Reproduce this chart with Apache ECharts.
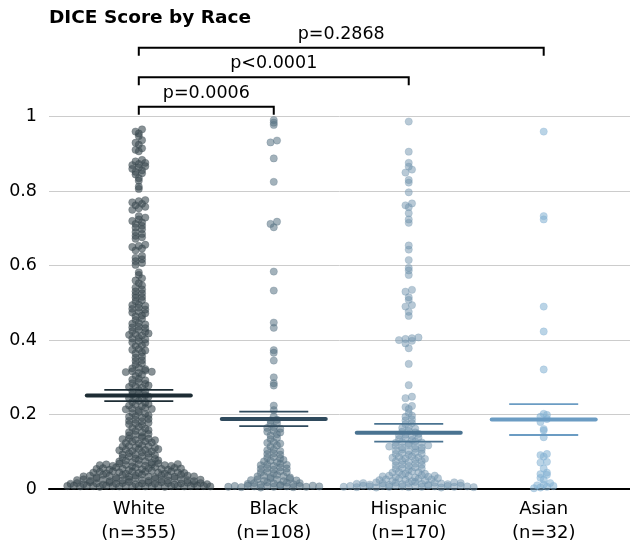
<!DOCTYPE html>
<html><head><meta charset="utf-8">
<script src="https://cdn.jsdelivr.net/npm/echarts@6/dist/echarts.min.js"></script>
<style>html,body{margin:0;padding:0;background:#fff}#c{width:630px;height:557px}</style>
</head><body><div id="c"></div>
<script>
// ---------- data ----------
const categories = ['White', 'Black', 'Hispanic', 'Asian'];
const groupSizes = [355, 108, 170, 32];
const yTicks = [0, 0.2, 0.4, 0.6, 0.8, 1];

const whiteValues = [
  .008,.009,.007,.009,.008,.006,.009,.008,.007,.009,.008,.009,.007,.008,.009,.006,.008,.009,.007,.008,.009,.008,.007,
  .014,.016,.013,.018,.015,.012,.017,.014,.016,.019,.013,.015,.017,.014,.018,.016,.012,.015,.017,.014,.016,.013,
  .024,.026,.022,.028,.025,.021,.027,.023,.026,.029,.024,.022,.027,.025,.023,.028,.026,.024,.021,.025,
  .034,.036,.032,.038,.035,.031,.037,.033,.036,.039,.034,.032,.037,.035,.033,.038,.036,.034,
  .044,.046,.042,.048,.045,.041,.047,.043,.046,.049,.044,.042,.047,.045,.043,
  .054,.056,.052,.058,.055,.051,.057,.053,.056,.059,.054,.052,.057,.055,
  .064,.066,.062,.068,.065,.061,.067,.063,.066,.069,.064,.062,.067,
  .074,.076,.072,.078,.075,.071,.077,
  .084,.087,.082,.088,.085,.081,
  .093,.096,.092,.098,.095,.091,
  .104,.106,.102,.108,.105,.101,.107,
  .114,.116,.112,.118,.115,.111,
  .124,.127,.122,.128,.125,
  .134,.136,.132,.138,.135,.131,
  .144,.146,.142,.148,
  .153,.156,.152,.158,
  .164,.167,.162,
  .174,.176,.172,.178,
  .183,.186,.182,.188,
  .194,.196,.192,.198,
  .204,.207,.202,
  .214,.216,.212,.218,.215,
  .224,.226,.222,.228,
  .234,.237,.232,
  .244,.246,.242,.248,
  .254,.256,.252,
  .263,.266,.262,
  .274,.276,.272,.278,
  .284,.287,.282,
  .294,.296,.292,
  .304,.307,
  .314,.316,.312,.318,.315,
  .324,.326,.322,
  .334,.337,
  .344,.346,
  .353,.356,
  .364,.367,
  .374,.376,.372,
  .384,.386,
  .394,.397,.392,
  .404,.406,.402,
  .414,.416,.412,.418,
  .424,.427,.422,
  .434,.436,.432,
  .444,.446,.442,
  .454,.457,
  .464,.466,
  .474,.476,.472,
  .484,.487,.482,
  .494,.496,.492,
  .504,.507,
  .514,.516,
  .522,.526,.531,.536,.541,.547,.553,.560,.566,.575,.582,
  .602,.607,.612,.617,.621,.626,
  .641,.646,.650,.653,.656,
  .672,.676,.680,.685,.690,
  .698,.702,.707,.712,.716,.720,.724,.729,.733,
  .750,.754,.758,.762,.766,.770,.773,.776,
  .806,.812,.828,.835,.845,.848,.852,.856,.860,.864,.867,.870,.873,.876,.880,.884,
  .907,.911,.915,.925,.930,.937,.948,.955,.960,.966
];
const blackValues = [
  .006,.008,.005,.009,.007,.004,.008,.006,.009,.007,.005,.008,.006,.009,.007,
  .014,.016,.012,.018,.015,.011,.017,.013,.016,
  .024,.026,.022,.028,.025,.021,.027,.023,
  .034,.036,.032,.038,.035,.031,
  .044,.046,.042,.048,.045,
  .054,.056,.052,.058,.055,
  .064,.066,.062,.068,.065,
  .074,.076,.072,.078,
  .084,.086,.082,
  .094,.096,.092,
  .104,.106,.102,
  .114,.117,
  .124,.126,.122,
  .134,.137,
  .144,.147,
  .154,.156,.152,
  .164,.166,.162,
  .174,.177,
  .184,.186,
  .195,
  .212,.224,.278,.284,.300,.345,.366,.373,.433,.447,
  .533,.584,.703,.712,.718,.825,.888,.931,.936,.978,.984,.991
];
const hispanicValues = [
  .006,.008,.005,.009,.007,.004,.008,.006,.009,.007,.005,.008,.006,.009,.007,.004,.008,.006,.009,.007,.005,
  .014,.016,.012,.018,.015,.011,.017,.013,.016,.019,.014,.012,.017,.015,.013,.018,.016,
  .024,.026,.022,.028,.025,.021,.027,.023,.026,.029,
  .034,.036,.032,.038,.035,.031,.037,.033,.036,
  .044,.046,.042,.048,.045,.041,
  .054,.056,.052,.058,.055,
  .064,.066,.062,.068,.065,
  .074,.076,.072,.078,.075,
  .084,.086,.082,.088,.085,.081,
  .094,.096,.092,.098,.095,
  .104,.106,.102,.108,.105,
  .114,.116,.112,.118,.115,.111,.117,
  .124,.126,.122,.128,.125,
  .134,.136,.132,.138,
  .144,.146,.142,.148,
  .154,.156,.152,
  .164,.166,.162,
  .174,.177,
  .184,.187,
  .194,.197,
  .204,.215,.220,.223,.244,.248,.279,.336,.378,.391,.398,.400,.403,.405,.407,.465,.476,.490,.494,
  .508,.515,.530,.535,.575,.587,.594,.615,.643,.654,.715,.724,.741,.757,.762,.767,.797,.823,.830,.850,.858,.866,.876,.906,.987
];
const asianValues = [
  .002,.004,.006,.008,.010,.012,.016,.025,.030,.038,.040,.044,.055,.071,.073,.087,.091,.094,
  .139,.157,.161,.180,.188,.194,.199,.202,.321,.423,.490,.724,.733,.960
];
const means    = [0.251, 0.188, 0.151, 0.187];
const semLow   = [0.236, 0.169, 0.127, 0.145];
const semHigh  = [0.266, 0.208, 0.175, 0.228];
const comparisons = [
  ['White', 'Black', 'p=0.0006'],
  ['White', 'Hispanic', 'p<0.0001'],
  ['White', 'Asian', 'p=0.2868']
];

// ---------- styles / layout ----------
const FONT = '"DejaVu Sans", sans-serif';
const dotColors = ['#3b4950', '#587283', '#7193ad', '#82b0d2'];
const dotOpacity = [0.6, 0.55, 0.5, 0.55];
const lineColors = ['#1d2c34', '#2f4a5d', '#4a7391', '#6b9cc3'];
const X_MIN = 0.3347, X_MAX = 4.6394;
const BIN = 0.01, SPACING = 6.5, DOT = 7.3;
const bracketLevels = [1.027, 1.106, 1.185];

const chart = echarts.init(document.getElementById('c'), null, {renderer: 'canvas'});

const base = {
  animation: false,
  title: {
    text: 'DICE Score by Race', left: 49, top: 8, padding: 0,
    textStyle: {fontFamily: FONT, fontWeight: 'bold', fontSize: 18.5, color: '#000', lineHeight: 21}
  },
  grid: {left: 49, right: 0, top: 116.7, bottom: 68, containLabel: false},
  xAxis: {
    type: 'value', min: X_MIN, max: X_MAX,
    axisLine: {show: true, onZero: false, lineStyle: {color: '#000', width: 2}},
    axisTick: {show: false},
    splitLine: {show: false},
    axisLabel: {
      customValues: [1, 2, 3, 4],
      formatter: v => { const i = Math.round(v) - 1; return categories[i] + '\n(n=' + groupSizes[i] + ')'; },
      margin: 8, fontFamily: FONT, fontSize: 18, lineHeight: 24, color: '#000'
    }
  },
  yAxis: {
    type: 'value', min: yTicks[0], max: yTicks[yTicks.length - 1], interval: 0.2,
    axisLine: {show: false}, axisTick: {show: false},
    splitLine: {show: true, lineStyle: {color: '#cccccc', width: 1}},
    axisLabel: {
      margin: 12, fontFamily: FONT, fontSize: 17.5, color: '#000',
      formatter: v => String(+v.toFixed(1))
    }
  },
  series: []
};
chart.setOption(base);

function layoutGroup(values, gi) {
  const bins = new Map();
  values.forEach(v => {
    const k = Math.floor(Math.round(v * 1000) / (BIN * 1000));
    if (!bins.has(k)) bins.set(k, []);
    bins.get(k).push(v);
  });
  const cx = chart.convertToPixel({gridIndex: 0}, [gi + 1, 0])[0];
  const out = [];
  bins.forEach(arr => {
    const n = arr.length;
    arr.forEach((v, i) => {
      const dx = (i - (n - 1) / 2) * SPACING;
      const xv = chart.convertFromPixel({gridIndex: 0}, [cx + dx, 0])[0];
      out.push([xv, v]);
    });
  });
  return out;
}

const groups = [whiteValues, blackValues, hispanicValues, asianValues];
const catIndex = name => categories.indexOf(name) + 1;

const series = groups.map((vals, gi) => ({
  type: 'scatter', name: categories[gi], silent: true,
  symbol: 'circle', symbolSize: DOT,
  data: layoutGroup(vals, gi),
  itemStyle: {color: dotColors[gi], opacity: dotOpacity[gi], borderColor: dotColors[gi], borderWidth: 0.5},
  z: 2
}));

series.push({
  type: 'custom', silent: true, z: 5, clip: false,
  data: means.map((m, i) => [i + 1, m, semLow[i], semHigh[i], i]),
  renderItem: (params, api) => {
    const x = api.value(0), gi = api.value(4);
    const cm = api.coord([x, api.value(1)]);
    const cl = api.coord([x, api.value(2)]);
    const ch = api.coord([x, api.value(3)]);
    const col = lineColors[gi];
    return {type: 'group', children: [
      {type: 'line', shape: {x1: cm[0] - 52, y1: cm[1], x2: cm[0] + 52, y2: cm[1]}, style: {stroke: col, lineWidth: 4, lineCap: 'round'}},
      {type: 'line', shape: {x1: cl[0] - 34.5, y1: cl[1], x2: cl[0] + 34.5, y2: cl[1]}, style: {stroke: col, lineWidth: 1.8}},
      {type: 'line', shape: {x1: ch[0] - 34.5, y1: ch[1], x2: ch[0] + 34.5, y2: ch[1]}, style: {stroke: col, lineWidth: 1.8}}
    ]};
  }
});

series.push({
  type: 'custom', silent: true, z: 6, clip: false,
  data: comparisons.map((c, i) => [catIndex(c[0]), catIndex(c[1]), bracketLevels[i], i]),
  renderItem: (params, api) => {
    const a = api.coord([api.value(0), api.value(2)]);
    const b = api.coord([api.value(1), api.value(2)]);
    const label = comparisons[api.value(3)][2];
    return {type: 'group', children: [
      {type: 'polyline', shape: {points: [[a[0], a[1] + 8], [a[0], a[1]], [b[0], b[1]], [b[0], b[1] + 8]]},
        style: {stroke: '#000', lineWidth: 2, fill: null}},
      {type: 'text', x: (a[0] + b[0]) / 2, y: a[1] - 13.5,
        style: {text: label, fontFamily: FONT, fontSize: 17.5, fill: '#000',
          align: 'center', verticalAlign: 'middle', textAlign: 'center', textVerticalAlign: 'middle'}}
    ]};
  }
});

chart.setOption({series: series});
</script>
</body></html>
